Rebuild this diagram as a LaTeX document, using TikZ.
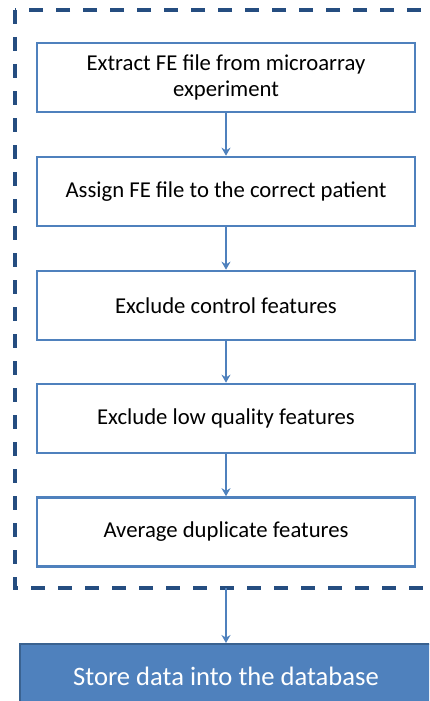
\documentclass[tikz,border=0pt]{standalone}
\usepackage{fontspec}
\setmainfont{Carlito}
\usetikzlibrary{arrows.meta}

\definecolor{boxblue}{HTML}{4F81BD}
\definecolor{frameblue}{HTML}{254D80}
\definecolor{storeedge}{HTML}{3A6290}

\tikzset{
  stepbox/.style={draw=boxblue, line width=2.6pt, fill=white, minimum width=378pt,
    minimum height=69pt, align=center, font=\fontsize{22.7}{26.5}\selectfont},
  flow/.style={draw=boxblue, line width=1.4pt, -{Stealth[length=8pt,width=9pt]}}
}

\begin{document}
\begin{tikzpicture}[x=1pt, y=-1pt]

\useasboundingbox (0,0) rectangle (429,701);
\clip (0,0) rectangle (429,701);

% Cadre en pointillés
\draw[frameblue, line width=3.8pt, dash pattern=on 14pt off 13pt] (15,10) rectangle (450,588);

% Etapes
\node[stepbox] (extract) at (226,77.5) {Extract FE file from microarray\\experiment};
\node[stepbox] (assign) at (226,191.5) {Assign FE file to the correct patient};
\node[stepbox] (control) at (226,305.5) {Exclude control features};
\node[stepbox] (quality) at (226,418.5) {Exclude low quality features};
\node[stepbox] (average) at (226,532) {Average duplicate features};

% Base de données
\coordinate (framebottom) at (226,588);
\node[draw=storeedge, line width=2pt, fill=boxblue, text=white, minimum width=412pt,
  minimum height=64pt, font=\fontsize{26.6}{30}\selectfont] (store) at (226,676)
  {Store data into the database};

% Flèches
\draw[flow] (extract) -- (assign);
\draw[flow] (assign) -- (control);
\draw[flow] (control) -- (quality);
\draw[flow] (quality) -- (average);
\draw[flow] (framebottom) -- (store);

\end{tikzpicture}
\end{document}
